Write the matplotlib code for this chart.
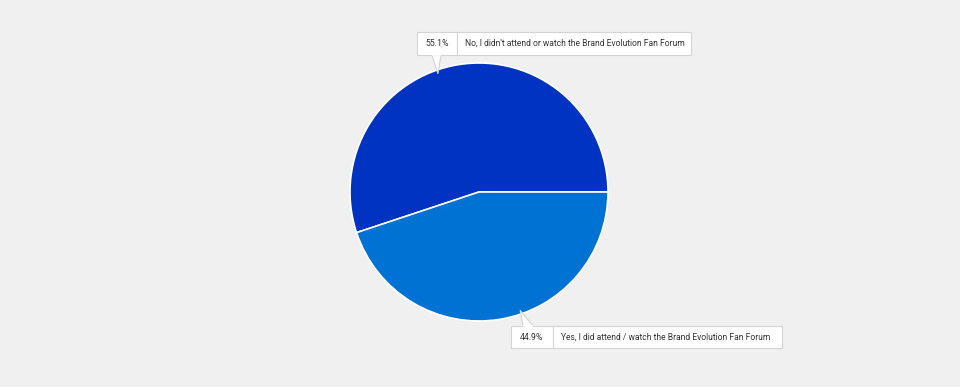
import numpy as np
import matplotlib
matplotlib.use("Agg")
import matplotlib.pyplot as plt
from matplotlib.patches import Rectangle, Polygon

labels = ["No, I didn't attend or watch the Brand Evolution Fan Forum",
          "Yes, I did attend / watch the Brand Evolution Fan Forum"]
values = [55.1, 44.9]
colors = ["#0033c1", "#0072d3"]

plt.rcParams['font.family'] = ['Roboto', 'DejaVu Sans']

W, H = 960, 387
fig = plt.figure(figsize=(W / 100, H / 100), dpi=100)
fig.patch.set_facecolor("#f0f0f0")
ax = fig.add_axes([0, 0, 1, 1])
ax.set_facecolor("#f0f0f0")

cx, cy, r = 479, H - 192, 129
wedges, _ = ax.pie(values, colors=colors, startangle=0, counterclock=True,
                   center=(cx, cy), radius=r, frame=True,
                   wedgeprops=dict(edgecolor="white", linewidth=1.2))
ax.set_xlim(0, W)
ax.set_ylim(0, H)
ax.set_aspect("equal")
ax.axis("off")

# label boxes: (left, right, top, bottom, divider) in image pixels, pointer base
boxes = [
    dict(l=417, r=691, t=32, b=55, d=457, base=(432, 441), edge="b"),
    dict(l=511, r=782, t=326, b=348, d=553, base=(523, 533), edge="t"),
]
border = "#d4d4d4"
for w, box, lab, v in zip(wedges, boxes, labels, values):
    ang = np.deg2rad((w.theta1 + w.theta2) / 2 + 10)
    px, py = cx + r * 0.97 * np.cos(ang), cy + r * 0.97 * np.sin(ang)
    yb = H - box["b"] if box["edge"] == "b" else H - box["t"]
    tri = Polygon([(box["base"][0], yb), (px, py), (box["base"][1], yb)],
                  closed=False, facecolor="white", edgecolor=border, lw=0.8, zorder=4)
    ax.add_patch(tri)
    rect = Rectangle((box["l"], H - box["b"]), box["r"] - box["l"], box["b"] - box["t"],
                     facecolor="white", edgecolor=border, lw=0.8, zorder=5)
    ax.add_patch(rect)
    # cover the triangle base line
    ax.plot([box["base"][0] + 0.6, box["base"][1] - 0.6], [yb, yb], color="white", lw=1.2, zorder=6)
    ax.plot([box["d"], box["d"]], [H - box["b"], H - box["t"]], color=border, lw=0.8, zorder=6)
    ym = H - (box["t"] + box["b"]) / 2
    ax.text((box["l"] + box["d"]) / 2, ym, f"{v}%", ha="center", va="center",
            fontsize=6.3, color="#333333", zorder=7)
    ax.text(box["d"] + 8, ym, lab, ha="left", va="center",
            fontsize=6.15, color="#333333", zorder=7)

fig.savefig("out.png", dpi=100, facecolor=fig.get_facecolor())
